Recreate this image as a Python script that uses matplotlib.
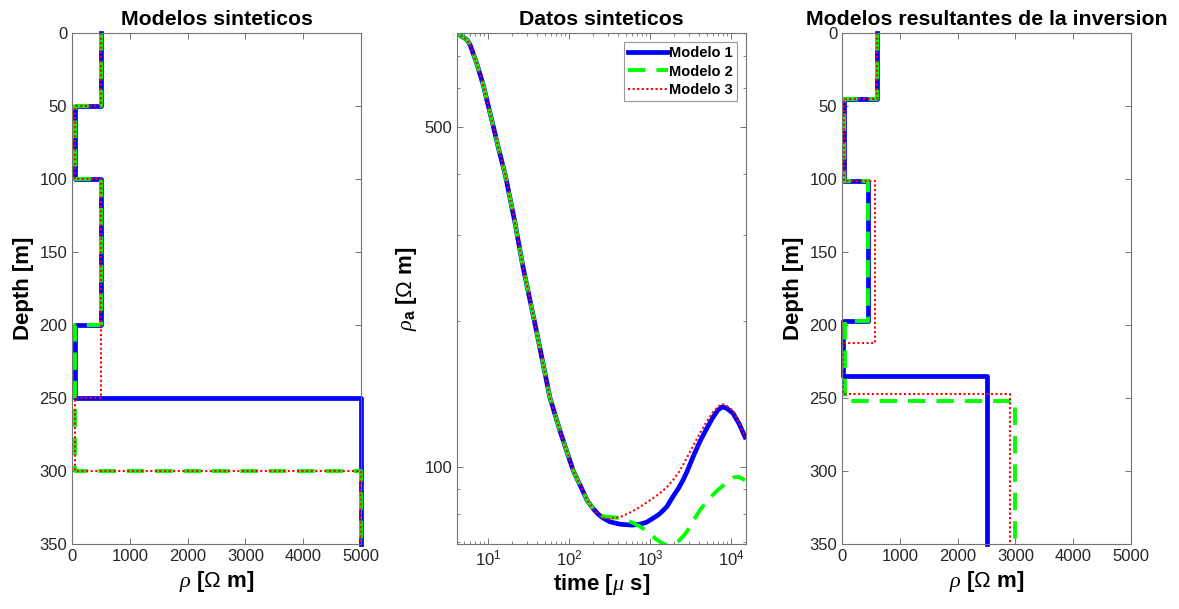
import matplotlib
matplotlib.use("Agg")
import matplotlib.pyplot as plt
import numpy as np
from matplotlib.ticker import NullFormatter, FixedLocator, LogLocator

plt.rcParams['font.family'] = ['Liberation Sans', 'DejaVu Sans']
plt.rcParams['mathtext.fontset'] = 'custom'
plt.rcParams['mathtext.rm'] = 'Liberation Sans'
plt.rcParams['mathtext.it'] = 'Liberation Serif:italic'
plt.rcParams['mathtext.bf'] = 'Liberation Sans:bold'

# --- synthetic layered models (rho in Ohm m, layer bottoms in m) ---
max_depth = 350
syn_rho_1 = [500, 50, 500, 50, 5000]
syn_bot_1 = [50, 100, 200, 250]
syn_rho_2 = [500, 50, 500, 50, 5000]
syn_bot_2 = [50, 100, 200, 300]
syn_rho_3 = [500, 50, 500, 50, 5000]
syn_bot_3 = [50, 100, 250, 300]

# --- inverted models ---
inv_rho_1 = [600, 40, 455, 25, 2500]
inv_bot_1 = [45, 101.5, 197.5, 235]
inv_rho_2 = [600, 40, 455, 45, 3000]
inv_bot_2 = [45, 101.5, 197.5, 252]
inv_rho_3 = [600, 40, 570, 15, 2900]
inv_bot_3 = [45, 101.5, 212, 247]

# --- apparent resistivity curves ---
time_us = [4.1, 4.4, 4.7, 5.1, 5.5, 6.0, 7.2, 8.7, 11.5, 13.5, 16.3, 21.5, 27,
           40, 58, 77, 112, 167, 200, 230, 263, 320, 430, 600, 750, 900, 1000,
           1200, 1330, 1620, 1920, 2250, 2550, 2870, 3400, 4140, 5000, 6000,
           6900, 7740, 8700, 10600, 12500, 14900]
rho_a_1 = [780, 775, 768, 762, 755, 738, 678, 611, 505, 451, 399, 318, 258,
           189, 139, 119, 98.6, 85.5, 82.0, 80.0, 78.6, 77.2, 76.3, 76.0, 76.3, 77.0, 77.8,
           79.3, 80.3, 83.0, 87.0, 90.5, 94.0, 98.0, 105.0, 113.0, 120.0, 126.7,
           131.0, 132.9, 132.3, 129.0, 123.0, 115.3]
rho_a_2 = [780, 775, 768, 762, 755, 738, 678, 611, 505, 451, 399, 318, 258,
           189, 139, 119, 98.6, 85.5, 82.0, 80.2, 79.2, 79.0, 78.5, 77.0, 75.5, 74.0, 73.0,
           71.0, 70.2, 69.0, 69.3, 70.5, 72.0, 73.8, 77.5, 81.6, 85.0, 87.8,
           89.8, 91.2, 92.8, 95.2, 95.5, 94.0]
rho_a_3 = [780, 775, 768, 762, 755, 738, 678, 611, 505, 451, 399, 318, 258,
           189, 139, 119, 98.6, 85.5, 82.0, 80.0, 78.6, 78.3, 79.0, 81.0, 82.8, 84.5, 85.5,
           87.3, 88.4, 91.0, 94.0, 97.5, 101.0, 104.8, 110.5, 117.5, 124.0, 129.8,
           133.0, 134.8, 134.0, 130.5, 123.5, 115.3]

labels = ['Modelo 1', 'Modelo 2', 'Modelo 3']
styles = [dict(color=(0, 0, 1), lw=3.4, ls='-'),
          dict(color=(0, 1, 0), lw=2.8, dashes=(4.5, 2.8)),
          dict(color=(1, 0, 0), lw=1.5, ls=(0, (1, 1.2)))]

AX_COLOR = '0.45'
TXT_COLOR = '#262626'


def step_xy(rho, bottoms):
    edges = [0] + list(bottoms) + [max_depth]
    xs = np.repeat(rho, 2)
    ys = np.array([[edges[i], edges[i + 1]] for i in range(len(rho))]).ravel()
    return xs, ys


def style_axes(ax):
    for s in ax.spines.values():
        s.set_color(AX_COLOR)
        s.set_linewidth(0.8)
    ax.tick_params(which='both', direction='in', top=True, right=True,
                   colors=AX_COLOR, labelcolor=TXT_COLOR, labelsize=12)
    ax.tick_params(which='major', length=4.5, width=0.7)
    ax.tick_params(which='minor', length=2.5, width=0.6)


def model_panel(ax, models, title):
    for (rho, bot), st in zip(models, styles):
        xs, ys = step_xy(rho, bot)
        ax.plot(xs, ys, clip_on=False, **st)
    ax.set_xlim(0, 5000)
    ax.set_ylim(max_depth, 0)
    ax.set_xticks(range(0, 5001, 1000))
    ax.set_yticks(range(0, 351, 50))
    ax.set_xlabel(r'$\rho$ [$\Omega$ m]', fontsize=16, fontweight='bold', labelpad=4)
    ax.set_ylabel('Depth [m]', fontsize=16, fontweight='bold', labelpad=4)
    ax.set_title(title, fontsize=15.3, fontweight='bold', pad=6)
    style_axes(ax)


fig = plt.figure(figsize=(11.79, 6.09), dpi=100)
pos_y, pos_h, pos_w = 65 / 609, 511 / 609, 289 / 1179
ax1 = fig.add_axes([72 / 1179, pos_y, pos_w, pos_h])
ax2 = fig.add_axes([457 / 1179, pos_y, pos_w, pos_h])
ax3 = fig.add_axes([842 / 1179, pos_y, pos_w, pos_h])

model_panel(ax1, [(syn_rho_1, syn_bot_1), (syn_rho_2, syn_bot_2), (syn_rho_3, syn_bot_3)],
            'Modelos sinteticos')
model_panel(ax3, [(inv_rho_1, inv_bot_1), (inv_rho_2, inv_bot_2), (inv_rho_3, inv_bot_3)],
            'Modelos resultantes de la inversion')

# middle panel: sounding curves
for rho_a, st, lab in zip([rho_a_1, rho_a_2, rho_a_3], styles, labels):
    ax2.plot(time_us, rho_a, label=lab, **st)
ax2.set_xscale('log')
ax2.set_yscale('log')
ax2.set_xlim(4.14, 15300)
ax2.set_ylim(69.5, 780)
ax2.xaxis.set_major_locator(FixedLocator([10, 100, 1000, 10000]))
ax2.xaxis.set_minor_locator(LogLocator(base=10, subs=np.arange(2, 10)))
ax2.xaxis.set_minor_formatter(NullFormatter())
ax2.yaxis.set_major_locator(FixedLocator([100, 500]))
ax2.yaxis.set_major_formatter(plt.FuncFormatter(lambda v, p: '%d' % v))
ax2.yaxis.set_minor_locator(LogLocator(base=10, subs=np.arange(2, 10)))
ax2.yaxis.set_minor_formatter(NullFormatter())
ax2.set_xlabel(r'time [$\mu$ s]', fontsize=16, fontweight='bold', labelpad=2)
ax2.set_ylabel(r'$\rho_{\mathbf{a}}$ [$\Omega$ m]', fontsize=16, fontweight='bold', labelpad=4)
ax2.set_title('Datos sinteticos', fontsize=15.3, fontweight='bold', pad=6)
style_axes(ax2)
leg = ax2.legend(loc='upper right', prop={'weight': 'bold', 'size': 10.5},
                 fancybox=False, framealpha=1, edgecolor='0.6', handlelength=2.7,
                 handletextpad=0.1, borderpad=0.3, labelspacing=0.3,
                 borderaxespad=0.6)
leg.get_frame().set_linewidth(0.8)

fig.savefig('out.png', dpi=100)
